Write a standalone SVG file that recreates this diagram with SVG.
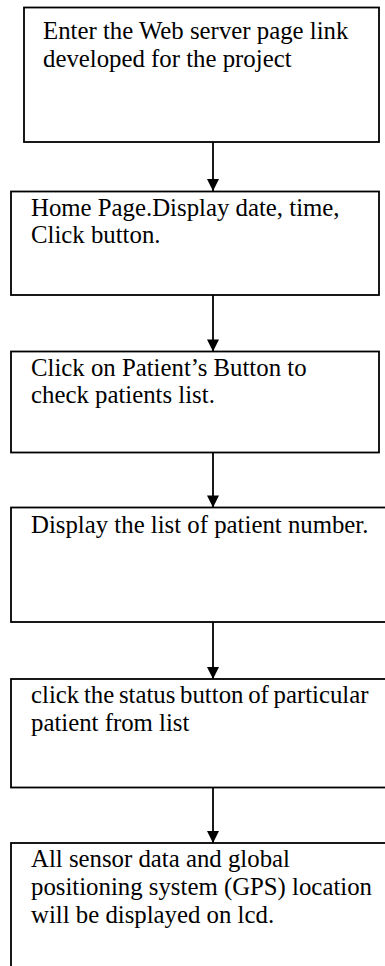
<svg xmlns="http://www.w3.org/2000/svg" width="385" height="966" viewBox="0 0 385 966">
  <defs>
    <style>
      .box { fill: #ffffff; stroke: #000000; stroke-width: 1.8; }
      .label { font-family: "Liberation Serif", "Times New Roman", serif; font-size: 24.8px; fill: #000000; }
      .link { stroke: #000000; stroke-width: 1.8; fill: none; }
    </style>
    <marker id="arrowhead" markerUnits="userSpaceOnUse" markerWidth="14" markerHeight="12" refX="14" refY="7" orient="auto" viewBox="0 0 14 14">
      <path d="M0,0 L14,7 L0,14 Z" fill="#000000"/>
    </marker>
  </defs>
  <rect width="385" height="966" fill="#ffffff"/>

  <g id="connectors">
    <line class="link" x1="213" y1="142" x2="213" y2="191" marker-end="url(#arrowhead)"/>
    <line class="link" x1="213" y1="295" x2="213" y2="351.5" marker-end="url(#arrowhead)"/>
    <line class="link" x1="213" y1="452.5" x2="213" y2="507.5" marker-end="url(#arrowhead)"/>
    <line class="link" x1="213" y1="622" x2="213" y2="679" marker-end="url(#arrowhead)"/>
    <line class="link" x1="213" y1="787.5" x2="213" y2="843" marker-end="url(#arrowhead)"/>
  </g>

  <g id="step1">
    <rect class="box" x="24" y="7.5" width="355" height="134.5"/>
    <text class="label" x="43" y="39">Enter the Web server page link</text>
    <text class="label" x="43" y="66.5">developed for the project</text>
  </g>

  <g id="step2">
    <rect class="box" x="11" y="191.5" width="368" height="103.5"/>
    <text class="label" x="31" y="215.5">Home Page.Display date, time,</text>
    <text class="label" x="31" y="243">Click button.</text>
  </g>

  <g id="step3">
    <rect class="box" x="11" y="351.5" width="368" height="101"/>
    <text class="label" x="31" y="375.5">Click on Patient’s Button to</text>
    <text class="label" x="31" y="403">check patients list.</text>
  </g>

  <g id="step4">
    <rect class="box" x="11" y="507.5" width="380" height="114.5"/>
    <text class="label" x="31" y="533">Display the list of patient number.</text>
  </g>

  <g id="step5">
    <rect class="box" x="11" y="679" width="380" height="108.5"/>
    <text class="label" x="31" y="703" word-spacing="-1.5">click the status button of particular</text>
    <text class="label" x="31" y="731">patient from list</text>
  </g>

  <g id="step6">
    <rect class="box" x="11" y="843" width="380" height="130"/>
    <text class="label" x="31" y="867">All sensor data and global</text>
    <text class="label" x="31" y="895">positioning system (GPS) location</text>
    <text class="label" x="31" y="923">will be displayed on lcd.</text>
  </g>
</svg>
